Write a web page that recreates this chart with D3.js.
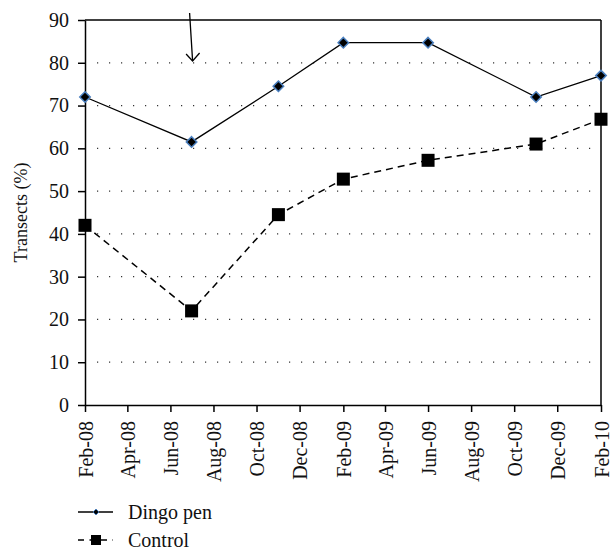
<!DOCTYPE html>
<html>
<head>
<meta charset="utf-8">
<script src="https://cdn.jsdelivr.net/npm/d3@7"></script>
<style>
  body { margin: 0; background: #fff; }
</style>
</head>
<body>
<div id="container"></div>
<script>
// sampling dates and values
var dates = ["2008-02", "2008-07", "2008-11", "2009-02", "2009-06", "2009-11", "2010-02"];
var dingoPen = [72, 61.5, 74.5, 84.7, 84.7, 72, 77];
var control = [42, 22, 44.5, 52.8, 57.2, 61, 66.8];
var yTicks = [0, 10, 20, 30, 40, 50, 60, 70, 80, 90];
var seriesNames = ["Dingo pen", "Control"];
var serif = "'Liberation Serif'";

(function(){
    var width = 612, height = 550;
    var margin = {top: 20, right: 11, bottom: 145, left: 85};
    var parse = d3.timeParse("%Y-%m");
    var pts = dates.map(parse);

    var svg = d3.select("#container")
        .append("svg")
        .attr("width", width)
        .attr("height", height);

    var x = d3.scaleTime()
        .domain([parse("2008-02"), parse("2010-02")])
        .range([margin.left, width - margin.right]);
    var y = d3.scaleLinear()
        .domain([0, 90])
        .range([height - margin.bottom, margin.top]);

    //dotted gridlines
    svg.append("g").selectAll("line")
        .data(yTicks.filter(function(d){ return d > 0 && d < 90; }))
        .enter().append("line")
        .attr("x1", margin.left + 12).attr("x2", width - margin.right)
        .attr("y1", function(d){ return y(d); }).attr("y2", function(d){ return y(d); })
        .attr("stroke", "#333").attr("stroke-width", 1.2)
        .attr("stroke-dasharray", "1.2,10.8");

    //frame top and right
    svg.append("line")
        .attr("x1", margin.left).attr("x2", width - margin.right)
        .attr("y1", y(90)).attr("y2", y(90))
        .attr("stroke", "#000").attr("stroke-width", 1.5);
    svg.append("line")
        .attr("x1", width - margin.right).attr("x2", width - margin.right)
        .attr("y1", y(90)).attr("y2", y(0))
        .attr("stroke", "#000").attr("stroke-width", 1.5);

    //axes
    var yAxis = svg.append("g")
        .attr("transform", "translate(" + margin.left + ",0)")
        .call(d3.axisLeft(y).tickValues(yTicks).tickSize(7).tickSizeOuter(0).tickPadding(9));
    var months = d3.timeMonth.range(parse("2008-02"), parse("2010-03"), 2);
    var xAxis = svg.append("g")
        .attr("transform", "translate(0," + y(0) + ")")
        .call(d3.axisBottom(x).tickValues(months).tickFormat(d3.timeFormat("%b-%y"))
            .tickSize(7).tickSizeOuter(0));
    [yAxis, xAxis].forEach(function(a){
        a.select(".domain").attr("stroke", "#000").attr("stroke-width", 1.5);
        a.selectAll(".tick line").attr("stroke", "#000").attr("stroke-width", 1.5);
        a.selectAll("text")
            .style("font-family", serif)
            .style("font-size", "20px")
            .attr("fill", "#111");
    });
    xAxis.selectAll("text")
        .attr("transform", "rotate(-90)")
        .attr("text-anchor", "end")
        .attr("x", -16).attr("y", 0).attr("dy", "0.35em");

    //axis title
    svg.append("text")
        .attr("transform", "translate(21," + ((y(0) + y(90)) / 2) + ") rotate(-90)")
        .attr("text-anchor", "middle")
        .attr("dy", "0.35em")
        .style("font-family", serif)
        .style("font-size", "18px")
        .attr("fill", "#111")
        .text("Transects (%)");

    //control series
    var ctrlLine = d3.line()
        .x(function(d, i){ return x(pts[i]); })
        .y(function(d){ return y(d); });
    svg.append("path").datum(control)
        .attr("d", ctrlLine)
        .attr("fill", "none").attr("stroke", "#000").attr("stroke-width", 1.5)
        .attr("stroke-dasharray", "7,5");
    svg.append("g").selectAll("rect")
        .data(control).enter().append("rect")
        .attr("x", function(d, i){ return x(pts[i]) - 6.5; })
        .attr("y", function(d){ return y(d) - 6.5; })
        .attr("width", 13).attr("height", 13)
        .attr("fill", "#000");

    //dingo pen series
    var dingoLine = d3.line()
        .x(function(d, i){ return x(pts[i]); })
        .y(function(d){ return y(d); });
    svg.append("path").datum(dingoPen)
        .attr("d", dingoLine)
        .attr("fill", "none").attr("stroke", "#000").attr("stroke-width", 1.3);
    var diamond = d3.symbol().type(d3.symbolDiamond2).size(70);
    svg.append("g").selectAll("path")
        .data(dingoPen).enter().append("path")
        .attr("d", diamond)
        .attr("transform", function(d, i){ return "translate(" + x(pts[i]) + "," + y(d) + ")"; })
        .attr("fill", "#000").attr("stroke", "#4a7fbf").attr("stroke-width", 1.5);

    //arrow marking the event
    var ax0 = x(parse("2008-07")) - 2, ay0 = 13, ax1 = x(parse("2008-07")) + 1, ay1 = 61;
    svg.append("line")
        .attr("x1", ax0).attr("y1", ay0).attr("x2", ax1).attr("y2", ay1)
        .attr("stroke", "#000").attr("stroke-width", 1.3);
    svg.append("path")
        .attr("d", "M" + (ax1 - 6.5) + "," + (ay1 - 7) + "L" + ax1 + "," + ay1 + "L" + (ax1 + 7) + "," + (ay1 - 8))
        .attr("fill", "none").attr("stroke", "#000").attr("stroke-width", 1.3);

    //legend
    var legend = svg.append("g");
    var ly = [512, 540];
    legend.append("line").attr("x1", 78).attr("x2", 113).attr("y1", ly[0]).attr("y2", ly[0])
        .attr("stroke", "#000").attr("stroke-width", 1.3);
    legend.append("path").attr("d", d3.symbol().type(d3.symbolDiamond2).size(22))
        .attr("transform", "translate(96," + ly[0] + ")")
        .attr("fill", "#000").attr("stroke", "#4a7fbf").attr("stroke-width", 1);
    legend.append("line").attr("x1", 78).attr("x2", 113).attr("y1", ly[1]).attr("y2", ly[1])
        .attr("stroke", "#000").attr("stroke-width", 1.5).attr("stroke-dasharray", "6,5.5");
    legend.append("rect").attr("x", 91).attr("y", ly[1] - 5).attr("width", 10).attr("height", 10)
        .attr("fill", "#000");
    legend.selectAll("text.lg").data(seriesNames).enter().append("text")
        .attr("class", "lg")
        .attr("x", 128).attr("y", function(d, i){ return ly[i]; })
        .attr("dy", "0.33em")
        .style("font-family", serif)
        .style("font-size", "20px")
        .attr("fill", "#111")
        .text(function(d){ return d; });
})();
</script>
</body>
</html>
